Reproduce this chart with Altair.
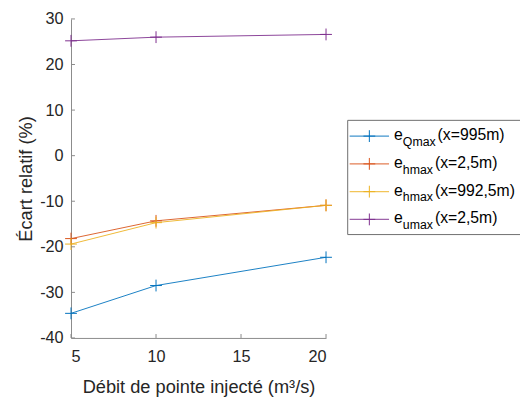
import altair as alt
import pandas as pd

# ---- data ----
x_vals = [5, 10, 20]
e_Qmax = [-34.6, -28.5, -22.3]
e_hmax_up = [-18.2, -14.3, -10.9]
e_hmax_down = [-19.4, -14.7, -10.9]
e_umax = [25.2, 26.0, 26.6]

series_keys = ["Q", "h1", "h2", "u"]
series_colors = ["#0072BD", "#D95319", "#EDB120", "#7E2F8E"]
legend_sub = ["Qmax", "hmax", "hmax", "umax"]
legend_suffix = ["(x=995m)", "(x=2,5m)", "(x=992,5m)", "(x=2,5m)"]

x_ticks = [5, 10, 15, 20]
y_ticks = [-40, -30, -20, -10, 0, 10, 20, 30]

FONT = "Liberation Sans"
TXT = "#262626"
AX = "#8a8a8a"
W, H = 259, 324

rows = []
for key, vals in zip(series_keys, [e_Qmax, e_hmax_up, e_hmax_down, e_umax]):
    for i, (xv, yv) in enumerate(zip(x_vals, vals)):
        rows.append({"s": key, "x": xv, "y": yv, "o": i})
df = pd.DataFrame(rows)

cross = "M-1,0L1,0M0,-1L0,1"

xs = alt.Scale(domain=[5, 20], nice=False, zero=False)
ys = alt.Scale(domain=[-40, 30], nice=False, zero=False)
cs = alt.Scale(domain=series_keys, range=series_colors)

x_axis = alt.Axis(
    values=x_ticks, title="Débit de pointe injecté (m³/s)", grid=False,
    ticks=False, tickSize=0, labelPadding=11, labelFontSize=16.5,
    labelExpr="'' + datum.value", labelFont=FONT, labelColor=TXT,
    titleFont=FONT, titleColor=TXT, domainColor=AX, domainWidth=1,
    titleFontSize=18.5, titleFontWeight="normal", titleY=55,
    titleBaseline="alphabetic")
y_axis = alt.Axis(
    values=y_ticks, title="Écart relatif (%)", grid=False,
    ticks=False, tickSize=0, labelPadding=8, labelFontSize=16.5,
    labelExpr="'' + datum.value", labelFont=FONT, labelColor=TXT,
    titleFont=FONT, titleColor=TXT, domainColor=AX, domainWidth=1,
    titleFontSize=18.5, titleFontWeight="normal", titleAngle=-90,
    titleX=-46, titleY=H / 2, titleAlign="center", titleBaseline="middle")

base = alt.Chart(df)
lines = base.mark_line(strokeWidth=1, opacity=0.9).encode(
    x=alt.X("x:Q", scale=xs, axis=x_axis),
    y=alt.Y("y:Q", scale=ys, axis=y_axis),
    color=alt.Color("s:N", scale=cs, legend=None),
    order="o:Q",
)
points = base.mark_point(shape=cross, filled=False, strokeWidth=1, size=144, opacity=1).encode(
    x=alt.X("x:Q", scale=xs, axis=x_axis),
    y=alt.Y("y:Q", scale=ys, axis=y_axis),
    color=alt.Color("s:N", scale=cs, legend=None),
)

ytick_df = pd.DataFrame({"v": y_ticks})
xtick_df = pd.DataFrame({"v": x_ticks})
ytick_marks = alt.Chart(ytick_df).mark_rule(color=AX, strokeWidth=1).encode(
    y=alt.Y("v:Q", scale=ys, axis=y_axis), x=alt.value(0), x2=alt.value(4))
xtick_marks = alt.Chart(xtick_df).mark_rule(color=AX, strokeWidth=1).encode(
    x=alt.X("v:Q", scale=xs, axis=x_axis), y=alt.value(H), y2=alt.value(H - 4))

main = alt.layer(lines, points, ytick_marks, xtick_marks).resolve_scale(
    x="shared", y="shared")

# ---- manual legend (subscripts) ----
char_w = {"Q": 0.778, "h": 0.556, "u": 0.556, "m": 0.833, "a": 0.556, "x": 0.5}
SUB_FS = 12.5
MAIN_FS = 16
leg = pd.DataFrame({
    "row": list(range(len(series_keys))),
    "s": series_keys,
    "sub": legend_sub,
    "suffix": legend_suffix,
})
leg["subw"] = [sum(char_w.get(c, 0.556) for c in t) * SUB_FS for t in legend_sub]

lbase = alt.Chart(leg).transform_calculate(
    py="103 + 16 + 28.2 * datum.row",
    pt="103 + 16 + 28.2 * datum.row + 4",
    ps="103 + 16 + 28.2 * datum.row + 10",
    sx="337 + datum.subw + 2",
)
box = alt.Chart(pd.DataFrame({"k": [0]})).mark_rect(
    fill="white", stroke="#6e6e6e", strokeWidth=1).encode(
    x=alt.value(281), x2=alt.value(470), y=alt.value(103), y2=alt.value(219))
lcol = alt.Color("s:N", scale=cs, legend=None)
lline = lbase.mark_rule(strokeWidth=1.2, opacity=0.75).encode(
    y=alt.Y("py:Q", scale=None, axis=None), x=alt.value(283), x2=alt.value(323), color=lcol)
lpt = lbase.mark_point(shape=cross, filled=False, strokeWidth=1, size=144, opacity=1).encode(
    y=alt.Y("py:Q", scale=None, axis=None), x=alt.value(303), color=lcol)
le = lbase.mark_text(font=FONT, fontSize=MAIN_FS, color="#000000", align="left", baseline="alphabetic").encode(
    y=alt.Y("pt:Q", scale=None, axis=None), x=alt.value(328), text=alt.value("e"))
lsub = lbase.mark_text(font=FONT, fontSize=SUB_FS, color="#000000", align="left", baseline="alphabetic").encode(
    y=alt.Y("ps:Q", scale=None, axis=None), x=alt.value(337), text="sub:N")
lsuf = lbase.mark_text(font=FONT, fontSize=MAIN_FS, color="#000000", align="left", baseline="alphabetic").encode(
    y=alt.Y("pt:Q", scale=None, axis=None), x=alt.X("sx:Q", scale=None, axis=None), text="suffix:N")

legend = alt.layer(box, lline, lpt, le, lsub, lsuf)

chart = alt.layer(main, legend).resolve_scale(
    x="independent", y="independent", color="shared"
).properties(
    width=W, height=H,
    background="white",
    autosize=alt.AutoSizeParams(type="none"),
    padding={"left": 64, "top": 8, "right": 197, "bottom": 66},
).configure_view(stroke=None, strokeWidth=0)

chart.save("out.html", embed_options={"renderer": "svg", "actions": False})
